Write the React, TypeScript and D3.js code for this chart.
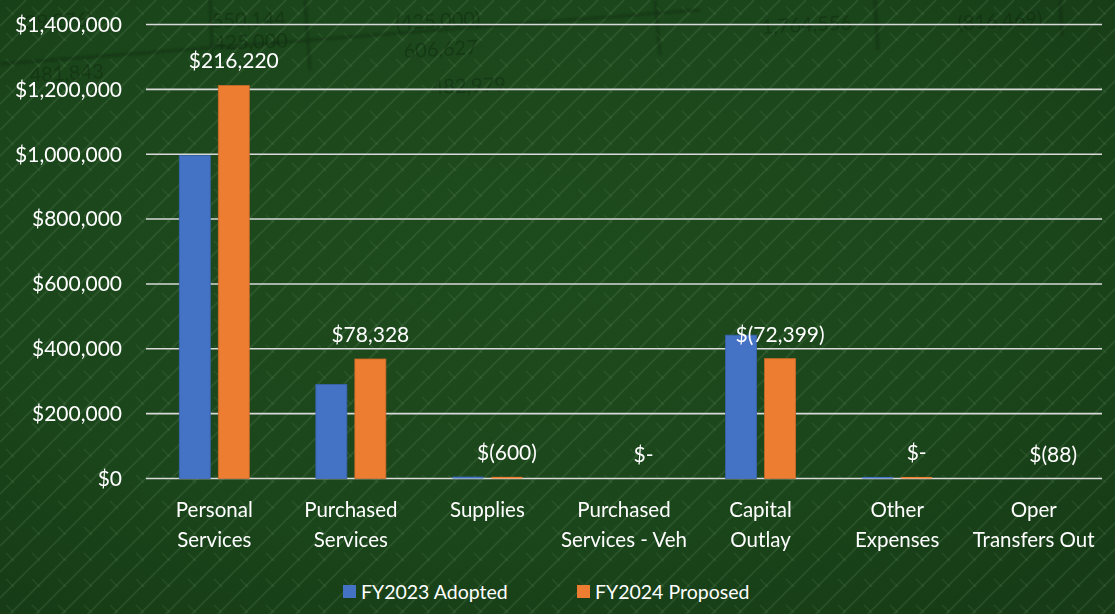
import React from "react";
import * as d3 from "d3";

const categories = [
  ["Personal", "Services"],
  ["Purchased", "Services"],
  ["Supplies"],
  ["Purchased", "Services - Veh"],
  ["Capital", "Outlay"],
  ["Other", "Expenses"],
  ["Oper", "Transfers Out"],
];
const seriesNames = ["FY2023 Adopted", "FY2024 Proposed"];
const fy2023 = [995700, 290200, 5600, 0, 442000, 4800, 88];
const fy2024 = [1211920, 368528, 5000, 0, 369601, 4800, 0];
const yTicks = [0, 200000, 400000, 600000, 800000, 1000000, 1200000, 1400000];

// faint figures from the background photo
const ghostText = [
  { t: "(39,276)", x: 20, y: 30, r: -3 },
  { t: "550,144", x: 212, y: 28, r: -2 },
  { t: "425,000", x: 214, y: 50, r: -2 },
  { t: "481,843", x: 30, y: 82, r: -3 },
  { t: "(425,000)", x: 396, y: 30, r: -3 },
  { t: "606,627", x: 404, y: 58, r: -3 },
  { t: "482,979", x: 432, y: 94, r: -2 },
  { t: "1,764,556", x: 762, y: 34, r: -3 },
  { t: "(816,469)", x: 958, y: 30, r: -3 },
];

const W = 1115;
const H = 614;
const colors = ["#4472c4", "#ed7d31"];
const strokes = ["#3a64b0", "#c96a28"];
const font = "Lato, 'Open Sans', sans-serif";

const fmt = d3.format(",");
const acct = (v: number) => (v === 0 ? "$-" : v < 0 ? `$(${fmt(-v)})` : `$${fmt(v)}`);

export default function App() {
  const x0 = d3.scaleBand<number>().domain(d3.range(categories.length)).range([146, 1102]);
  const bw = x0.bandwidth();
  const x1 = d3
    .scaleBand<number>()
    .domain([0, 1])
    .range([bw / 2 - 35, bw / 2 + 35])
    .paddingInner(8 / 39);
  const y = d3.scaleLinear().domain([0, 1400000]).range([478.5, 24.5]);
  const values = [fy2023, fy2024];

  return (
    <svg width={W} height={H} style={{ position: "absolute", left: 0, top: 0, display: "block" }}>
      <defs>
        <pattern id="lattice" width="26" height="26" patternUnits="userSpaceOnUse">
          <path d="M0 26 L26 0" stroke="#7aa574" strokeWidth="1.6" opacity="0.17" />
          <path d="M-13 13 L0 0 M13 39 L39 13" stroke="#7aa574" strokeWidth="1.6" opacity="0.17" />
          <path d="M6 7 L14 15" stroke="#7aa574" strokeWidth="1.4" opacity="0.13" />
        </pattern>
        <radialGradient id="shade" cx="0.45" cy="0.4" r="0.75">
          <stop offset="0" stopColor="#1e4b1e" />
          <stop offset="0.6" stopColor="#1b461b" />
          <stop offset="1" stopColor="#163b16" />
        </radialGradient>
        <filter id="blur" x="-5%" y="-20%" width="110%" height="140%">
          <feGaussianBlur stdDeviation="1.1" />
        </filter>
      </defs>
      <rect width={W} height={H} fill="url(#shade)" />
      <rect width={W} height={H} fill="url(#lattice)" />
      <g filter="url(#blur)" opacity="0.5">
        <path d="M0 64 L700 10 M210 0 L213 70 M305 0 L310 70 M655 0 L660 55 M875 0 L878 50 M1060 0 L1062 35" stroke="#0d240d" strokeWidth="2" fill="none" />
      </g>
      <g fill="#0d240d" opacity="0.4" fontFamily={font} fontSize="20">
        {ghostText.map((g, i) => (
          <text key={i} x={g.x} y={g.y} transform={`rotate(${g.r} ${g.x} ${g.y})`}>
            {g.t}
          </text>
        ))}
      </g>

      {/* grid */}
      {yTicks.map((t) => (
        <g key={t}>
          <line x1={146} x2={1102} y1={y(t)} y2={y(t)} stroke="#d9d9d9" strokeWidth={1.6} />
          <text
            x={122}
            y={y(t)}
            dy="0.35em"
            textAnchor="end"
            fill="#ffffff"
            fontFamily={font}
            fontSize={21}
          >
            {"$" + fmt(t)}
          </text>
        </g>
      ))}

      {/* bars */}
      {categories.map((c, i) => (
        <g key={i} transform={`translate(${x0(i)},0)`}>
          {values.map((vals, s) => {
            const v = vals[i];
            const top = y(v);
            const h = y(0) - top;
            if (h < 0.5) return null;
            return (
              <rect
                key={s}
                x={x1(s)}
                y={top}
                width={x1.bandwidth()}
                height={h}
                fill={colors[s]}
                stroke={h > 3 ? strokes[s] : "none"}
                strokeWidth={0.8}
              />
            );
          })}
          <text
            x={(x1(1) as number) + x1.bandwidth() / 2}
            y={y(Math.max(fy2024[i], 0)) - 17}
            textAnchor="middle"
            fill="#ffffff"
            fontFamily={font}
            fontSize={21}
          >
            {acct(fy2024[i] - fy2023[i])}
          </text>
          {c.map((line, k) => (
            <text
              key={k}
              x={bw / 2}
              y={510 + k * 30}
              dy="0.35em"
              textAnchor="middle"
              fill="#ffffff"
              fontFamily={font}
              fontSize={20.5}
            >
              {line}
            </text>
          ))}
        </g>
      ))}

      {/* legend */}
      {seriesNames.map((n, s) => {
        const lx = s === 0 ? 343 : 577;
        return (
          <g key={n}>
            <rect x={lx} y={585} width={13} height={13} fill={colors[s]} />
            <text x={lx + 18} y={592} dy="0.35em" fill="#ffffff" fontFamily={font} fontSize={19.5}>
              {n}
            </text>
          </g>
        );
      })}
    </svg>
  );
}
